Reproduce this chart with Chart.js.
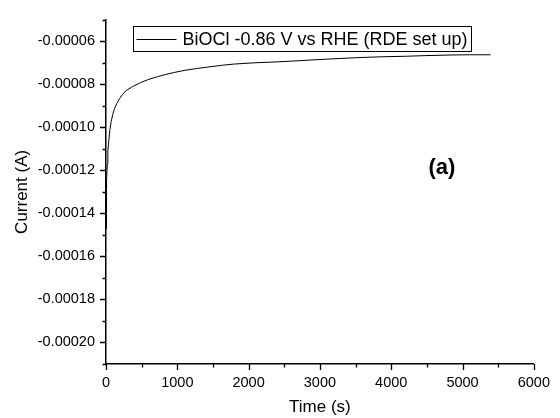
<!DOCTYPE html>
<html>
<head>
<meta charset="utf-8">
<script src="https://cdn.jsdelivr.net/npm/chart.js@4"></script>
<style>
  body { margin: 0; background: #fff; }
</style>
</head>
<body>
<canvas id="currentChart" width="560" height="418"></canvas>
<script>
// Chronoamperometry
const seriesLabel = 'BiOCl -0.86 V vs RHE (RDE set up)';
const timeS = [0, 5, 10, 18, 26, 40, 55, 73, 95, 119, 150, 188, 230, 280, 372, 480, 602, 720, 833, 960,
  1109, 1270, 1431, 1620, 1800, 2100, 2400, 2629, 3000, 3300, 3549, 3900, 4200, 4471, 4840, 5100, 5392];
const currentA = [-0.000147, -0.000135, -0.000125, -0.000117, -0.000111, -0.000106, -0.000101, -0.0000973,
  -0.000094, -0.0000913, -0.000089, -0.0000868, -0.0000848, -0.000083, -0.0000811, -0.0000793, -0.0000777,
  -0.0000765, -0.0000755, -0.0000745, -0.0000735, -0.0000727, -0.000072, -0.0000712, -0.0000706, -0.00007,
  -0.0000696, -0.0000692, -0.0000685, -0.000068, -0.0000676, -0.0000672, -0.000067, -0.0000667, -0.0000664,
  -0.0000663, -0.0000663];
const xTicks = [0, 1000, 2000, 3000, 4000, 5000, 6000];
const yTicks = ['-0.00006', '-0.00008', '-0.00010', '-0.00012', '-0.00014', '-0.00016', '-0.00018', '-0.00020'];
const panelLabel = '(a)';
const panelAt = { x: 4710, y: -0.0001187 };

const FONT = '"Liberation Sans", Arial, sans-serif';

// ticks drawn by hand: majors long, minors short (Origin style)
const tickPlugin = {
  id: 'originTicks',
  afterDraw(chart) {
    const ctx = chart.ctx;
    const xs = chart.scales.x, ys = chart.scales.y;
    ctx.save();
    ctx.strokeStyle = '#000';
    ctx.lineWidth = 1.3;
    ctx.beginPath();
    xs.ticks.forEach(t => {
      const px = Math.round(xs.getPixelForValue(t.value)) + 0.5;
      const len = xTicks.includes(t.value) ? 6 : 3.5;
      ctx.moveTo(px, xs.top);
      ctx.lineTo(px, xs.top + len);
    });
    ys.ticks.forEach(t => {
      const py = Math.round(ys.getPixelForValue(t.value)) + 0.5;
      const len = yTicks.includes(t.value.toFixed(5)) ? 6 : 3.5;
      ctx.moveTo(ys.right, py);
      ctx.lineTo(ys.right - len, py);
    });
    ctx.stroke();

    // boxed legend
    const area = chart.chartArea;
    ctx.font = '18px ' + FONT;
    const tw = ctx.measureText(seriesLabel).width;
    const bx = Math.round(area.left + 27) + 0.5, by = Math.round(area.top + 6) + 0.5;
    const bw = Math.round(49 + tw + 4), bh = 25;
    ctx.lineWidth = 1;
    ctx.strokeRect(bx, by, bw, bh);
    ctx.beginPath();
    ctx.moveTo(bx + 3, by + 13);
    ctx.lineTo(bx + 43, by + 13);
    ctx.stroke();
    ctx.fillStyle = '#000';
    ctx.textBaseline = 'middle';
    ctx.fillText(seriesLabel, bx + 49, by + bh / 2 + 1);

    // panel label
    ctx.font = 'bold 22px ' + FONT;
    ctx.textAlign = 'center';
    ctx.fillText(panelLabel, xs.getPixelForValue(panelAt.x), ys.getPixelForValue(panelAt.y));
    ctx.restore();
  }
};

new Chart(document.getElementById('currentChart').getContext('2d'), {
  type: 'line',
  data: {
    datasets: [{
      label: seriesLabel,
      data: timeS.map((t, i) => ({ x: t, y: currentA[i] })),
      borderColor: '#000',
      borderWidth: 1,
      pointRadius: 0,
      tension: 0,
      fill: false
    }]
  },
  options: {
    responsive: false,
    animation: false,
    layout: { padding: { top: 13, right: 19, left: 0, bottom: 0 } },
    plugins: { legend: { display: false }, tooltip: { enabled: false } },
    scales: {
      x: {
        type: 'linear',
        min: 0,
        max: 6000,
        afterFit: s => { s.height = 54; },
        grid: { display: false, drawTicks: false },
        border: { display: true, color: '#000', width: 1.5 },
        ticks: {
          stepSize: 500,
          autoSkip: false,
          maxRotation: 0,
          padding: 10,
          color: '#000',
          font: { family: FONT, size: 14.5 },
          callback: v => xTicks.includes(v) ? String(v) : ''
        },
        title: {
          display: true,
          text: 'Time (s)',
          color: '#000',
          font: { family: FONT, size: 17 },
          padding: { top: 0, bottom: 0 }
        }
      },
      y: {
        type: 'linear',
        min: -0.00021,
        max: -0.00005,
        afterFit: s => { s.width = 106; },
        grid: { display: false, drawTicks: false },
        border: { display: true, color: '#000', width: 1.5 },
        ticks: {
          stepSize: 0.00001,
          autoSkip: false,
          padding: 11,
          color: '#000',
          font: { family: FONT, size: 14.5 },
          callback: v => yTicks.includes(v.toFixed(5)) ? v.toFixed(5) : ''
        },
        title: {
          display: true,
          text: 'Current (A)',
          color: '#000',
          font: { family: FONT, size: 17 },
          padding: { top: 12, bottom: 12 }
        }
      }
    }
  },
  plugins: [tickPlugin]
});
</script>
</body>
</html>
